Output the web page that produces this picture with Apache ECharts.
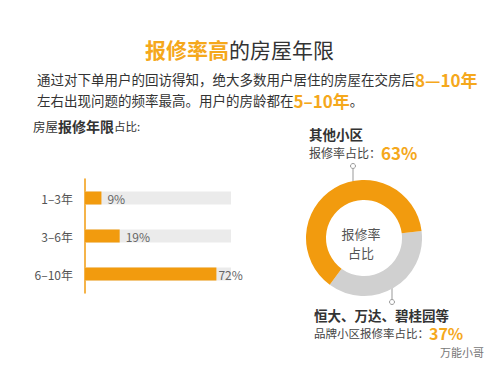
<!DOCTYPE html>
<html>
<head>
<meta charset="utf-8">
<script src="https://cdn.jsdelivr.net/npm/echarts@6/dist/echarts.min.js"></script>
<style>
  html, body { margin: 0; padding: 0; background: #fff; }
  #main { width: 500px; height: 366px; }
</style>
</head>
<body>
<div id="main"></div>
<script>
// 数据
var barCats = ['1–3年', '3–6年', '6–10年'];
var barVals = [9, 19, 72];
var pieNames = ['恒大、万达、碧桂园等', '其他小区'];
var pieVals = [37, 63];

var ORANGE = '#F29B0E';
var TXT_OR = '#F5A81C';
var FONT = '"Noto Sans CJK SC", sans-serif';

var myChart = echarts.init(document.getElementById('main'), null, { renderer: 'svg' });

var option = {
  backgroundColor: '#fff',
  textStyle: { fontFamily: FONT },
  title: {
    left: 140,
    top: 33,
    text: '{a|报修率高}{b|的房屋年限}',
    textStyle: {
      fontWeight: 'normal',
      rich: {
        a: { fontSize: 21, fontWeight: 'bold', color: TXT_OR, fontFamily: FONT },
        b: { fontSize: 21, fontWeight: 'normal', color: '#333', fontFamily: FONT }
      }
    }
  },
  grid: { left: 85, top: 179, width: 146, height: 114 },
  xAxis: { type: 'value', min: 0, max: 80, show: false },
  yAxis: {
    type: 'category',
    data: barCats,
    inverse: true,
    axisLine: { lineStyle: { color: ORANGE, width: 1.5 } },
    axisTick: { show: false },
    axisLabel: { color: '#555', fontSize: 12, margin: 12, fontFamily: FONT }
  },
  graphic: [
    {
      type: 'text', x: 37, y: 79,
      style: {
        text: '{n|通过对下单用户的回访得知，绝大多数用户居住的房屋在交房后}{h|8—10年}',
        verticalAlign: 'middle',
        rich: {
          n: { fontSize: 13.5, fill: '#333', fontFamily: FONT },
          h: { fontSize: 17, fontWeight: 'bold', fill: TXT_OR, fontFamily: FONT }
        }
      }
    },
    {
      type: 'text', x: 37, y: 100,
      style: {
        text: '{n|左右出现问题的频率最高。用户的房龄都在}{h|5–10年}{n|。}',
        verticalAlign: 'middle',
        rich: {
          n: { fontSize: 13.5, fill: '#333', fontFamily: FONT },
          h: { fontSize: 17, fontWeight: 'bold', fill: TXT_OR, fontFamily: FONT }
        }
      }
    },
    {
      type: 'text', x: 33, y: 126,
      style: {
        text: '{n|房屋}{b|报修年限}{s|占比:}',
        verticalAlign: 'middle',
        rich: {
          n: { fontSize: 12.5, fill: '#333', fontFamily: FONT },
          b: { fontSize: 14, fontWeight: 'bold', fill: '#333', fontFamily: FONT },
          s: { fontSize: 11.5, fill: '#333', fontFamily: FONT }
        }
      }
    },
    {
      type: 'text', x: 309, y: 134,
      style: { text: pieNames[1], fontSize: 13.5, fontWeight: 'bold', fill: '#333', fontFamily: FONT, verticalAlign: 'middle' }
    },
    {
      type: 'text', x: 309, y: 152,
      style: {
        text: '{n|报修率占比：}{h|' + pieVals[1] + '%}',
        verticalAlign: 'middle',
        rich: {
          n: { fontSize: 12, fill: '#444', fontFamily: FONT },
          h: { fontSize: 17, fontWeight: 'bold', fill: TXT_OR, fontFamily: FONT }
        }
      }
    },
    {
      type: 'text', x: 314, y: 315,
      style: { text: pieNames[0], fontSize: 13.5, fontWeight: 'bold', fill: '#333', fontFamily: FONT, verticalAlign: 'middle' }
    },
    {
      type: 'text', x: 314, y: 333,
      style: {
        text: '{n|品牌小区报修率占比：}{h|' + pieVals[0] + '%}',
        verticalAlign: 'middle',
        rich: {
          n: { fontSize: 11.5, fill: '#444', fontFamily: FONT },
          h: { fontSize: 16, fontWeight: 'bold', fill: TXT_OR, fontFamily: FONT }
        }
      }
    },
    {
      type: 'text', x: 361, y: 243,
      style: {
        text: '报修率\n占比', fontSize: 13, lineHeight: 19, fill: '#555',
        fontFamily: FONT, align: 'center', verticalAlign: 'middle'
      }
    },
    // 引线
    { type: 'line', shape: { x1: 353, y1: 169, x2: 353, y2: 182 }, style: { stroke: '#999', lineWidth: 1 } },
    { type: 'circle', shape: { cx: 353, cy: 166, r: 2.5 }, style: { fill: '#fff', stroke: '#999', lineWidth: 1 } },
    { type: 'line', shape: { x1: 392, y1: 286, x2: 392, y2: 299 }, style: { stroke: '#999', lineWidth: 1 } },
    { type: 'circle', shape: { cx: 392, cy: 302, r: 2.5 }, style: { fill: '#fff', stroke: '#999', lineWidth: 1 } },
    {
      type: 'text', x: 440, y: 352,
      style: { text: '万能小哥', fontSize: 11, fill: '#777', fontFamily: FONT, verticalAlign: 'middle' }
    }
  ],
  series: [
    {
      type: 'bar',
      data: barVals.map(function (v, i) {
        return { value: v, label: { distance: i < 2 ? 6 : 2 } };
      }),
      barWidth: 13,
      itemStyle: { color: ORANGE },
      showBackground: true,
      backgroundStyle: { color: '#EBEBEB' },
      label: {
        show: true, position: 'right', formatter: '{c}%',
        color: '#666', fontSize: 12, fontFamily: FONT
      },
      silent: true
    },
    {
      type: 'pie',
      center: [364, 238],
      radius: [38, 58],
      startAngle: 7,
      clockwise: true,
      silent: true,
      label: { show: false },
      labelLine: { show: false },
      data: [
        { name: pieNames[0], value: pieVals[0], itemStyle: { color: '#D0D0D0' } },
        { name: pieNames[1], value: pieVals[1], itemStyle: { color: ORANGE } }
      ]
    }
  ]
};
myChart.setOption(option);
</script>
</body>
</html>
